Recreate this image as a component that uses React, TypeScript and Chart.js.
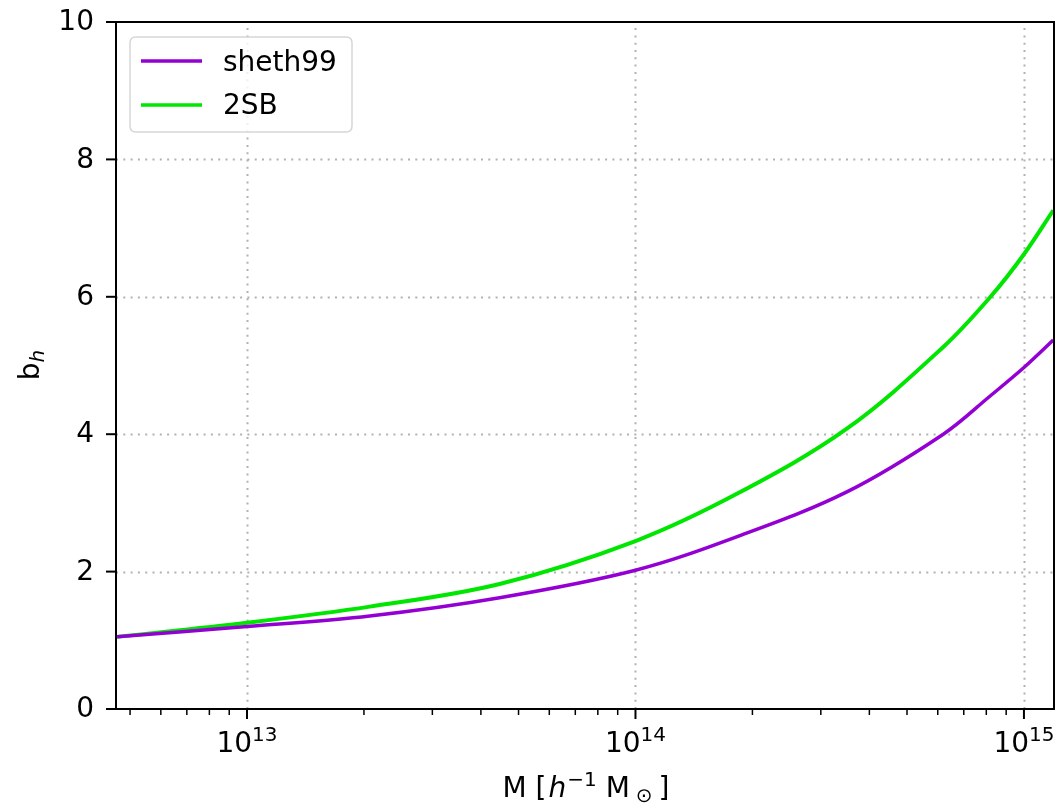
import React, { useEffect, useRef } from "react";
import { Chart, registerables } from "chart.js";

Chart.register(...registerables);

const masses = [4.63e12, 1e13, 2.07e13, 4.47e13, 1e14, 1.85e14, 3.5e14, 6.2e14, 8.2e14, 1e15, 1.19e15];
const sheth99 = [1.05, 1.2, 1.355, 1.62, 2.02, 2.52, 3.16, 4.0, 4.56, 4.97, 5.37];
const twoSB = [1.05, 1.256, 1.49, 1.82, 2.445, 3.15, 4.08, 5.27, 6.0, 6.62, 7.26];
const seriesLabels = ["sheth99", "2SB"];
const seriesColors = ["#9400d3", "#00e600"];
const yTicks = [0, 2, 4, 6, 8, 10];
const xMajorExps = [13, 14, 15];
const xRange = [4.6e12, 1.195e15];

const FONT = "'DejaVu Sans', sans-serif";

const decorPlugin = {
  id: "decor",
  beforeDatasetsDraw(chart: any) {
    const { ctx, chartArea: a } = chart;
    const xs = chart.scales.x;
    const ys = chart.scales.y;
    ctx.save();
    ctx.strokeStyle = "rgba(165,165,165,0.85)";
    ctx.lineWidth = 2;
    ctx.setLineDash([2, 5.3]);
    for (const v of yTicks) {
      if (v === 0 || v === 10) continue;
      const py = Math.round(ys.getPixelForValue(v)) + 0.5;
      ctx.beginPath();
      ctx.moveTo(a.left, py);
      ctx.lineTo(a.right, py);
      ctx.stroke();
    }
    for (const e of xMajorExps) {
      const px = Math.round(xs.getPixelForValue(Math.pow(10, e))) + 0.5;
      ctx.beginPath();
      ctx.moveTo(px, a.bottom);
      ctx.lineTo(px, a.top);
      ctx.stroke();
    }
    ctx.restore();
  },
  afterDatasetsDraw(chart: any) {
    const { ctx, chartArea: a } = chart;
    const xs = chart.scales.x;
    const ys = chart.scales.y;
    ctx.save();
    ctx.strokeStyle = "#000";
    ctx.lineWidth = 2;
    ctx.strokeRect(a.left, a.top, a.right - a.left, a.bottom - a.top);
    ctx.fillStyle = "#000";
    ctx.font = `28px ${FONT}`;
    ctx.textAlign = "right";
    ctx.textBaseline = "middle";
    for (const v of yTicks) {
      const py = ys.getPixelForValue(v);
      ctx.beginPath();
      ctx.moveTo(a.left - 10, py);
      ctx.lineTo(a.left, py);
      ctx.stroke();
      ctx.fillText(String(v), a.left - 22, py + 1);
    }
    for (let e = 12; e <= 15; e++) {
      for (let k = 1; k <= 9; k++) {
        const v = k * Math.pow(10, e);
        if (v < xRange[0] || v > xRange[1]) continue;
        const px = xs.getPixelForValue(v);
        const major = k === 1;
        ctx.lineWidth = major ? 2 : 1.5;
        ctx.beginPath();
        ctx.moveTo(px, a.bottom);
        ctx.lineTo(px, a.bottom + (major ? 10 : 6));
        ctx.stroke();
      }
    }
    ctx.textBaseline = "alphabetic";
    ctx.textAlign = "left";
    for (const e of xMajorExps) {
      const px = xs.getPixelForValue(Math.pow(10, e));
      ctx.font = `28px ${FONT}`;
      const w1 = ctx.measureText("10").width;
      ctx.font = `20px ${FONT}`;
      const sup = String(e);
      const w2 = ctx.measureText(sup).width;
      const x0 = px - (w1 + w2) / 2;
      ctx.font = `28px ${FONT}`;
      ctx.fillText("10", x0, 752);
      ctx.font = `20px ${FONT}`;
      ctx.fillText(sup, x0 + w1, 741);
    }
    const parts = [
      { t: "M [", f: `28px ${FONT}`, dy: 0, gap: 2 },
      { t: "h", f: `italic 28px ${FONT}`, dy: 0, gap: 1 },
      { t: "\u22121", f: `20px ${FONT}`, dy: -11, gap: 0 },
      { t: " M", f: `28px ${FONT}`, dy: 0, gap: 6 },
      { t: "\u2299", f: `20px ${FONT}`, dy: 5, gap: 6 },
      { t: "]", f: `28px ${FONT}`, dy: 0, gap: 0 },
    ];
    let total = 0;
    for (const p of parts) {
      ctx.font = p.f;
      total += ctx.measureText(p.t).width + p.gap;
    }
    let cx = 586 - total / 2;
    for (const p of parts) {
      ctx.font = p.f;
      ctx.fillText(p.t, cx, 797 + p.dy);
      cx += ctx.measureText(p.t).width + p.gap;
    }
    ctx.save();
    ctx.translate(39, 365);
    ctx.rotate(-Math.PI / 2);
    ctx.font = `28px ${FONT}`;
    const wb = ctx.measureText("b").width;
    ctx.font = `italic 20px ${FONT}`;
    const wh = ctx.measureText("h").width;
    const sx = -(wb + wh) / 2;
    ctx.font = `28px ${FONT}`;
    ctx.fillText("b", sx, 0);
    ctx.font = `italic 20px ${FONT}`;
    ctx.fillText("h", sx + wb, 5);
    ctx.restore();
    const lx = 130, ly = 37, lw = 222, lh = 95, r = 6;
    ctx.beginPath();
    ctx.moveTo(lx + r, ly);
    ctx.lineTo(lx + lw - r, ly);
    ctx.quadraticCurveTo(lx + lw, ly, lx + lw, ly + r);
    ctx.lineTo(lx + lw, ly + lh - r);
    ctx.quadraticCurveTo(lx + lw, ly + lh, lx + lw - r, ly + lh);
    ctx.lineTo(lx + r, ly + lh);
    ctx.quadraticCurveTo(lx, ly + lh, lx, ly + lh - r);
    ctx.lineTo(lx, ly + r);
    ctx.quadraticCurveTo(lx, ly, lx + r, ly);
    ctx.closePath();
    ctx.fillStyle = "rgba(255,255,255,0.8)";
    ctx.fill();
    ctx.strokeStyle = "#d6d6d6";
    ctx.lineWidth = 1.5;
    ctx.stroke();
    const rows = [61, 105];
    const bases = [71, 114];
    chart.data.datasets.forEach((ds: any, i: number) => {
      ctx.strokeStyle = ds.borderColor;
      ctx.lineWidth = 3.5;
      ctx.beginPath();
      ctx.moveTo(141, rows[i]);
      ctx.lineTo(202, rows[i]);
      ctx.stroke();
      ctx.fillStyle = "#000";
      ctx.font = `28px ${FONT}`;
      ctx.fillText(ds.label, 223, bases[i]);
    });
    ctx.restore();
  },
};

export default function App() {
  const ref = useRef<HTMLCanvasElement | null>(null);
  useEffect(() => {
    if (!ref.current) return;
    const chart = new Chart(ref.current, {
      type: "line",
      data: {
        datasets: [
          {
            label: seriesLabels[0],
            data: masses.map((m, i) => ({ x: m, y: sheth99[i] })),
            borderColor: seriesColors[0],
            borderWidth: 3.5,
            pointRadius: 0,
            tension: 0.35,
            fill: false,
          },
          {
            label: seriesLabels[1],
            data: masses.map((m, i) => ({ x: m, y: twoSB[i] })),
            borderColor: seriesColors[1],
            borderWidth: 4,
            pointRadius: 0,
            tension: 0.35,
            fill: false,
          },
        ],
      },
      options: {
        responsive: false,
        animation: false,
        events: [],
        layout: { padding: { top: 22, right: 2, left: 0, bottom: 0 } },
        plugins: { legend: { display: false }, tooltip: { enabled: false } },
        scales: {
          x: {
            type: "logarithmic",
            min: xRange[0],
            max: xRange[1],
            ticks: { display: false },
            grid: { display: false, drawTicks: false },
            border: { display: false },
            afterFit: (s: any) => {
              s.height = 98;
            },
          },
          y: {
            min: 0,
            max: 10,
            afterBuildTicks: (s: any) => {
              s.ticks = yTicks.map((v) => ({ value: v }));
            },
            ticks: { display: false },
            grid: { display: false, drawTicks: false },
            border: { display: false },
            afterFit: (s: any) => {
              s.width = 116;
            },
          },
        },
      },
      plugins: [decorPlugin],
    });
    return () => chart.destroy();
  }, []);
  return (
    <div style={{ position: "fixed", left: 0, top: 0, width: 1056, height: 807, background: "#fff" }}>
      <canvas ref={ref} width={1056} height={807} style={{ width: 1056, height: 807, display: "block" }} />
    </div>
  );
}
